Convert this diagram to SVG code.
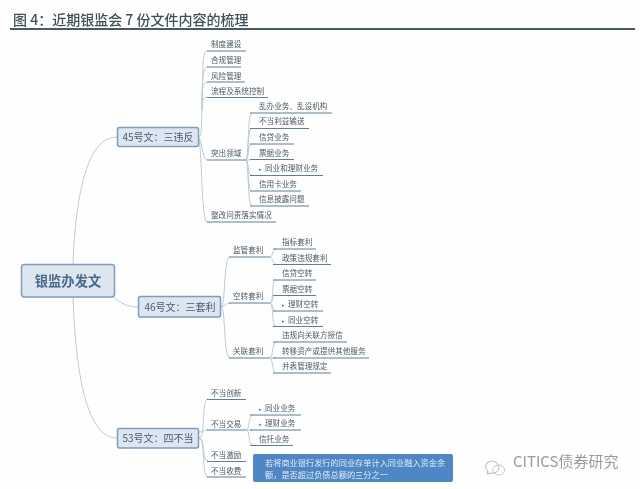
<svg xmlns="http://www.w3.org/2000/svg" width="640" height="489" viewBox="0 0 640 489">
<defs>
<filter id="soft" x="-5%" y="-5%" width="110%" height="110%"><feGaussianBlur stdDeviation="0.45"/></filter>
</defs>
<style>
text{font-family:"Noto Sans CJK SC","Noto Sans",sans-serif}
.t{font-size:7.6px;fill:#4a5a60}
.u{stroke:#5f7f92;stroke-width:1;fill:none}
.c{stroke:#b9cbd3;stroke-width:1;fill:none}
.b{fill:#dce6f1;stroke:#7f9cb9;stroke-width:1.5}
.m{font-size:10px;fill:#4a5a68;text-anchor:middle}
.f{fill:#5b7b90;font-size:5px}
</style>
<rect width="640" height="489" fill="#fefefe"/>
<g id="title" filter="url(#soft)">
<text x="13" y="24.5" font-size="14" fill="#3f5058" font-weight="500">图 4：近期银监会 7 份文件内容的梳理</text>
<rect x="10" y="28" width="625" height="2" fill="#4a5a60"/>
</g>
<g filter="url(#soft)">
<g id="connectors">
<path class="c" d="M73 264C76 190 88 137 117 137"/>
<path class="c" d="M113 297C120 303 128 307 138 307"/>
<path class="c" d="M73 297C76 380 88 438 117 438"/>
<path class="c" d="M198 137C202 137 201 130 202 110C203 70 202 51 207 51"/>
<path class="c" d="M202 110C202 80 203 67 207 67"/>
<path class="c" d="M202 100C202 88 203 82 207 82"/>
<path class="c" d="M202 110C202 102 203 97 207 97"/>
<path class="c" d="M198 137C202 137 202 160 207 160"/>
<path class="c" d="M198 137C202 137 201 222 207 222"/>
<path class="c" d="M246 160C249 160 247 113 252 113"/>
<path class="c" d="M246 160C249 160 247 128 252 128"/>
<path class="c" d="M246 160C249 160 247 144 252 144"/>
<path class="c" d="M246 160H250"/>
<path class="c" d="M246 160C249 160 247 175 252 175"/>
<path class="c" d="M246 160C249 160 247 191 252 191"/>
<path class="c" d="M246 160C249 160 247 206 252 206"/>
<path class="c" d="M221 307C226 307 223 257 230 257"/>
<path class="c" d="M221 307C224 307 226 303 230 303"/>
<path class="c" d="M221 307C226 307 223 358 230 358"/>
<path class="c" d="M270 257C273 257 272 249 276 249"/>
<path class="c" d="M270 257C273 257 272 264 276 264"/>
<path class="c" d="M270 303C274 303 271 280 276 280"/>
<path class="c" d="M270 303C273 303 272 295 276 295"/>
<path class="c" d="M270 303C273 303 272 311 276 311"/>
<path class="c" d="M270 303C274 303 271 326 276 326"/>
<path class="c" d="M270 358C273 358 272 342 276 342"/>
<path class="c" d="M270 358H276"/>
<path class="c" d="M270 358C273 358 272 373 276 373"/>
<path class="c" d="M199 438C206 438 201 399 208 399"/>
<path class="c" d="M199 432C203 432 204 430 208 430"/>
<path class="c" d="M199 438C206 438 201 461 208 461"/>
<path class="c" d="M199 438C206 438 201 477 208 477"/>
<path class="c" d="M246 430C250 430 248 415 253 415"/>
<path class="c" d="M246 430H253"/>
<path class="c" d="M246 430C250 430 248 445 253 445"/>
</g>
<g id="root"><rect class="b" x="21.5" y="264.5" width="93" height="32.500" rx="3" stroke="#6f8db5"/><text x="68" y="286" font-size="13.300" font-weight="700" fill="#4a6a8a" text-anchor="middle">银监办发文</text></g>
<g id="n45"><rect class="b" x="117.500" y="127.500" width="81" height="19" rx="2"/><text class="m" x="158" y="141">45号文：三违反</text></g>
<g id="n46"><rect class="b" x="138.500" y="296.500" width="82" height="20.500" rx="2"/><text class="m" x="180" y="311">46号文：三套利</text></g>
<g id="n53"><rect class="b" x="117.500" y="428.500" width="81" height="19.500" rx="2"/><text class="m" x="158" y="442">53号文：四不当</text></g>

<g id="a1"><text class="t" x="211" y="47">制度建设</text><path class="u" d="M207 51H246"/></g>
<g id="a2"><text class="t" x="211" y="63">合规管理</text><path class="u" d="M207 67H241"/></g>
<g id="a3"><text class="t" x="211" y="79">风险管理</text><path class="u" d="M207 82H245"/></g>
<g id="a4"><text class="t" x="211" y="94">流程及系统控制</text><path class="u" d="M207 97.500H268"/></g>
<g id="a5"><text class="t" x="211" y="156">突出领域</text><path class="u" d="M207 160H246"/></g>
<g id="a6"><text class="t" x="211" y="218">整改问责落实情况</text><path class="u" d="M207 222H276"/></g>
<g id="a7"><text class="t" x="259" y="109">乱办业务、乱设机构</text><path class="u" d="M250 113H332"/></g>
<g id="a8"><text class="t" x="259" y="124">不当利益输送</text><path class="u" d="M250 128.500H309"/></g>
<g id="a9"><text class="t" x="259" y="140">信贷业务</text><path class="u" d="M250 144H294"/></g>
<g id="a10"><text class="t" x="259" y="156">票据业务</text><path class="u" d="M250 159.500H294"/></g>
<g id="a11"><text class="f" x="259" y="171">▸</text><text class="t" x="265" y="171">同业和理财业务</text><path class="u" d="M250 175.500H323"/></g>
<g id="a12"><text class="t" x="259" y="187">信用卡业务</text><path class="u" d="M250 191H301"/></g>
<g id="a13"><text class="t" x="259" y="202">信息披露问题</text><path class="u" d="M250 206H309"/></g>

<g id="b1"><text class="t" x="233" y="253">监管套利</text><path class="u" d="M229 257H270"/></g>
<g id="b2"><text class="t" x="233" y="299">空转套利</text><path class="u" d="M229 303H270"/></g>
<g id="b3"><text class="t" x="233" y="354">关联套利</text><path class="u" d="M229 358H270"/></g>
<g id="b4"><text class="t" x="282" y="245">指标套利</text><path class="u" d="M273 249H316"/></g>
<g id="b5"><text class="t" x="282" y="261">政策违规套利</text><path class="u" d="M273 264.500H331"/></g>
<g id="b6"><text class="t" x="282" y="276">信贷空转</text><path class="u" d="M273 280H316"/></g>
<g id="b7"><text class="t" x="282" y="292">票据空转</text><path class="u" d="M273 295.500H316"/></g>
<g id="b8"><text class="f" x="282" y="307">▸</text><text class="t" x="288" y="307">理财空转</text><path class="u" d="M273 311H323"/></g>
<g id="b9"><text class="f" x="282" y="323">▸</text><text class="t" x="288" y="323">同业空转</text><path class="u" d="M273 326.500H323"/></g>
<g id="b10"><text class="t" x="282" y="338">违规向关联方授信</text><path class="u" d="M273 342H347"/></g>
<g id="b11"><text class="t" x="282" y="354">转移资产或提供其他服务</text><path class="u" d="M273 358H369"/></g>
<g id="b12"><text class="t" x="282" y="369">并表管理规定</text><path class="u" d="M273 373H331"/></g>

<g id="c1"><text class="t" x="211" y="396">不当创新</text><path class="u" d="M207 399.500H246"/></g>
<g id="c2"><text class="t" x="211" y="427">不当交易</text><path class="u" d="M207 430H246"/></g>
<g id="c3"><text class="t" x="211" y="458">不当激励</text><path class="u" d="M207 461.500H246"/></g>
<g id="c4"><text class="t" x="211" y="474">不当收费</text><path class="u" d="M207 477H246"/></g>
<g id="c5"><text class="f" x="259" y="411">▸</text><text class="t" x="265" y="411">同业业务</text><path class="u" d="M250 415H301"/></g>
<g id="c6"><text class="f" x="259" y="426">▸</text><text class="t" x="265" y="426">理财业务</text><path class="u" d="M250 430H301"/></g>
<g id="c7"><text class="t" x="259" y="442">信托业务</text><path class="u" d="M250 445.500H293"/></g>

<g id="note"><rect x="253" y="454" width="200" height="28" rx="2" fill="#4f86c6"/>
<text x="265" y="465.500" font-size="8.200" fill="#dfeaf5">若将商业银行发行的同业存单计入同业融入资金余</text>
<text x="265" y="478" font-size="8.200" fill="#dfeaf5">额，是否超过负债总额的三分之一</text></g>
</g>
<g id="watermark" filter="url(#soft)">
<path d="M487 463a7 6 0 1 1 3 10l-3 1 1-3a7 6 0 0 1-1-8z" fill="none" stroke="#b5b5b5"/>
<path d="M498 465a6 5 0 1 1-3 9a6 5 0 0 1 3-9" fill="none" stroke="#c8c8c8"/>
<text x="513" y="467" font-size="15" fill="#9a9a9a">CITICS债券研究</text></g>
</svg>
